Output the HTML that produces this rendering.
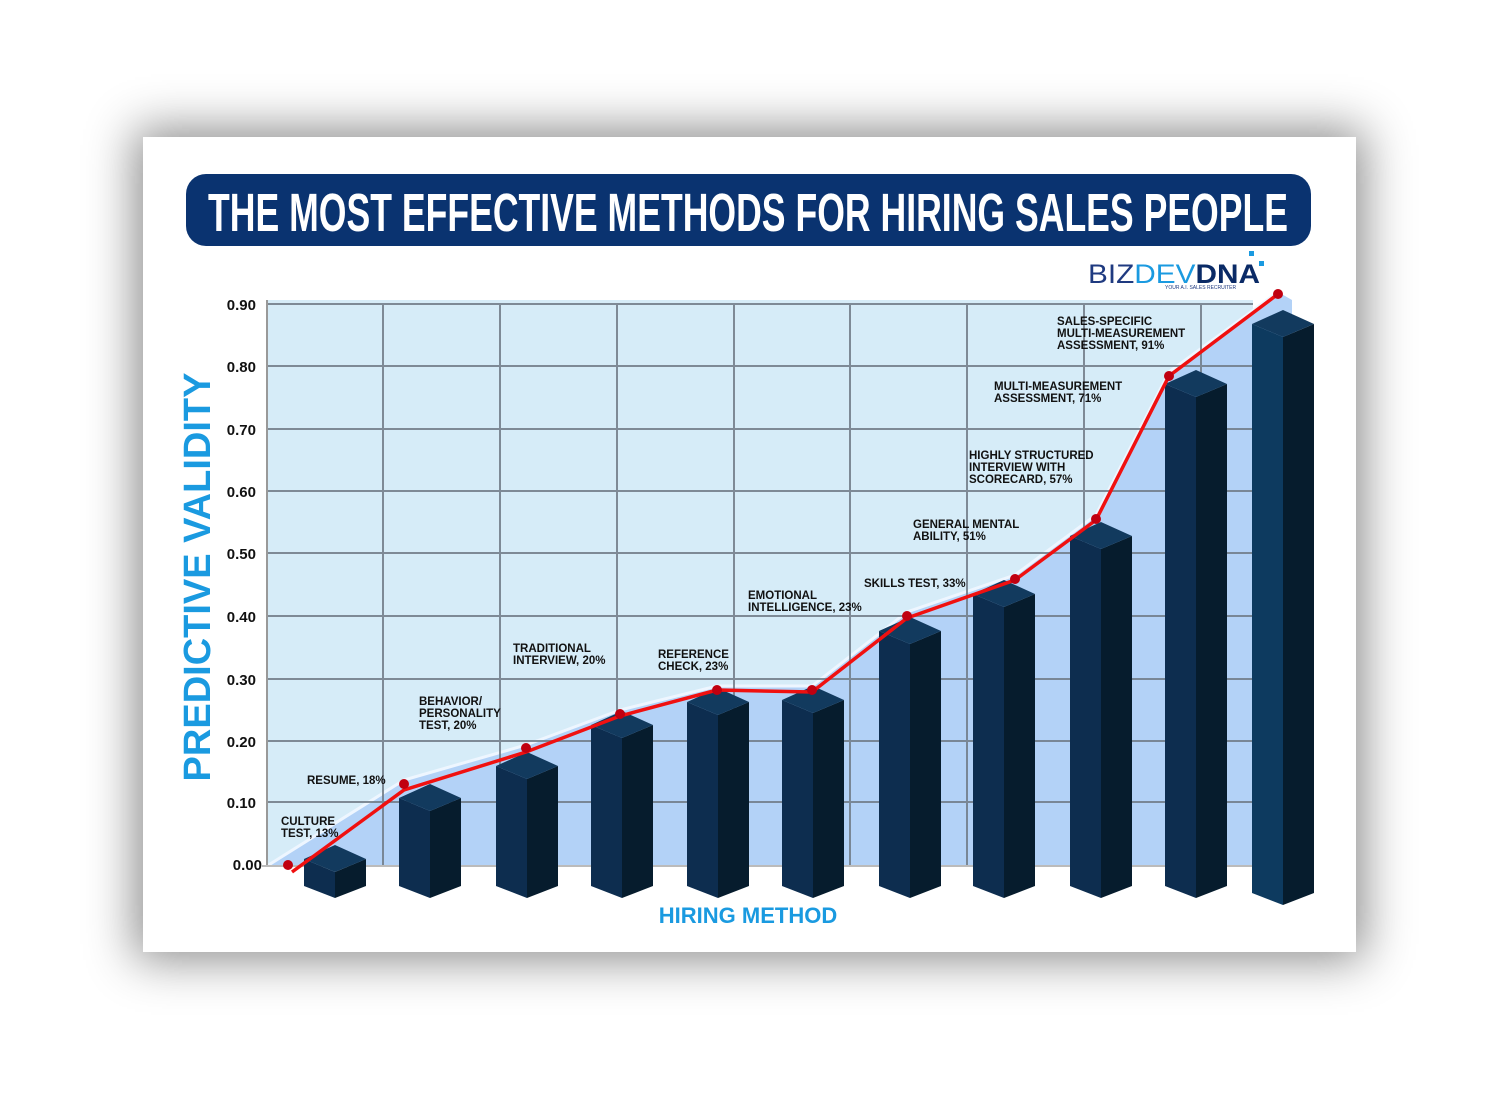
<!DOCTYPE html>
<html><head><meta charset="utf-8"><style>
html,body{margin:0;padding:0;background:#fff;}
body{width:1500px;height:1102px;overflow:hidden;position:relative;}
.card{position:absolute;left:143px;top:137px;width:1213px;height:815px;background:#fff;box-shadow:0 0 45px 8px rgba(0,0,0,.45);}
svg{position:absolute;left:0;top:0;}
.lb{font-family:"Liberation Sans",sans-serif;font-weight:bold;font-size:11.5px;fill:#111;}
.tk{font-family:"Liberation Sans",sans-serif;font-weight:bold;font-size:15px;fill:#111;}
</style></head><body>
<div class="card"></div>
<svg width="1500" height="1102" viewBox="0 0 1500 1102">
<rect x="186" y="174" width="1125" height="72" rx="20" fill="#0a3370"/>
<text x="748" y="231" text-anchor="middle" font-family="Liberation Sans Narrow,Liberation Sans,sans-serif" font-weight="bold" font-size="54" fill="#fff" textLength="1080" lengthAdjust="spacingAndGlyphs">THE MOST EFFECTIVE METHODS FOR HIRING SALES PEOPLE</text>
<text x="1088" y="283" font-family="Liberation Sans,sans-serif" font-size="27" fill="#1f3a80" textLength="172" lengthAdjust="spacingAndGlyphs">BIZ<tspan fill="#1a9ae0">DEV</tspan><tspan font-weight="bold" fill="#0a2a66">DNA</tspan></text>
<rect x="1249" y="251" width="5" height="5" fill="#1a9ae0"/><rect x="1259" y="261" width="5" height="5" fill="#1a9ae0"/>
<text x="1165" y="289" font-family="Liberation Sans,sans-serif" font-size="5" fill="#1f3a80">YOUR A.I. SALES RECRUITER</text>
<rect x="267" y="300" width="986" height="566" fill="#d6ecf8"/>
<polygon points="267,866 404,780 526,745 620,710 717,686 812,686 907,612 1015,575 1096,515 1169,372 1278,292 1292,300 1292,866" fill="#b3d2f7"/>
<polyline points="267,866 404,780 526,745 620,710 717,686 812,686 907,612 1015,575 1096,515 1169,372 1278,292" fill="none" stroke="#eef6ff" stroke-width="3"/>
<g stroke="#6f7a86" stroke-width="2" opacity=".85">
<line x1="267" y1="304" x2="1253" y2="304"/><line x1="267" y1="366" x2="1253" y2="366"/><line x1="267" y1="429" x2="1253" y2="429"/><line x1="267" y1="491" x2="1253" y2="491"/><line x1="267" y1="553" x2="1253" y2="553"/><line x1="267" y1="616" x2="1253" y2="616"/><line x1="267" y1="679" x2="1253" y2="679"/><line x1="267" y1="741" x2="1253" y2="741"/><line x1="267" y1="802" x2="1253" y2="802"/>
<line x1="383" y1="304" x2="383" y2="866"/><line x1="500" y1="304" x2="500" y2="866"/><line x1="617" y1="304" x2="617" y2="866"/><line x1="734" y1="304" x2="734" y2="866"/><line x1="850" y1="304" x2="850" y2="866"/><line x1="967" y1="304" x2="967" y2="866"/><line x1="1084" y1="304" x2="1084" y2="866"/><line x1="1201" y1="304" x2="1201" y2="866"/>
</g>
<line x1="267" y1="300" x2="267" y2="866" stroke="#999" stroke-width="2"/>
<line x1="262" y1="866" x2="1253" y2="866" stroke="#bbb" stroke-width="2"/>
<g class="tk" text-anchor="end">
<text x="256" y="310">0.90</text><text x="256" y="372">0.80</text><text x="256" y="435">0.70</text><text x="256" y="497">0.60</text><text x="256" y="559">0.50</text><text x="256" y="622">0.40</text><text x="256" y="685">0.30</text><text x="256" y="747">0.20</text><text x="256" y="808">0.10</text><text x="262" y="870">0.00</text>
</g>
<text transform="translate(210,577) rotate(-90)" text-anchor="middle" font-family="Liberation Sans,sans-serif" font-weight="bold" font-size="38" fill="#1a9ae0">PREDICTIVE VALIDITY</text>
<text x="748" y="923" text-anchor="middle" font-family="Liberation Sans,sans-serif" font-weight="bold" font-size="22" fill="#1a9ae0">HIRING METHOD</text>
<g>
<polygon points="304,859 335,872 335,898 304,886" fill="#0d2d4f"/><polygon points="335,872 366,859 366,886 335,898" fill="#061c2d"/><polygon points="335,845 366,859 335,872 304,859" fill="#123a5e"/>
<polygon points="399,798 430,811 430,898 399,886" fill="#0d2d4f"/><polygon points="430,811 461,798 461,886 430,898" fill="#061c2d"/><polygon points="430,784 461,798 430,811 399,798" fill="#123a5e"/>
<polygon points="496,766 527,779 527,898 496,886" fill="#0d2d4f"/><polygon points="527,779 558,766 558,886 527,898" fill="#061c2d"/><polygon points="527,752 558,766 527,779 496,766" fill="#123a5e"/>
<polygon points="591,725 622,738 622,898 591,886" fill="#0d2d4f"/><polygon points="622,738 653,725 653,886 622,898" fill="#061c2d"/><polygon points="622,711 653,725 622,738 591,725" fill="#123a5e"/>
<polygon points="687,702 718,715 718,898 687,886" fill="#0d2d4f"/><polygon points="718,715 749,702 749,886 718,898" fill="#061c2d"/><polygon points="718,688 749,702 718,715 687,702" fill="#123a5e"/>
<polygon points="782,700 813,713 813,898 782,886" fill="#0d2d4f"/><polygon points="813,713 844,700 844,886 813,898" fill="#061c2d"/><polygon points="813,686 844,700 813,713 782,700" fill="#123a5e"/>
<polygon points="879,631 910,644 910,898 879,886" fill="#0d2d4f"/><polygon points="910,644 941,631 941,886 910,898" fill="#061c2d"/><polygon points="910,617 941,631 910,644 879,631" fill="#123a5e"/>
<polygon points="973,594 1004,607 1004,898 973,886" fill="#0d2d4f"/><polygon points="1004,607 1035,594 1035,886 1004,898" fill="#061c2d"/><polygon points="1004,580 1035,594 1004,607 973,594" fill="#123a5e"/>
<polygon points="1070,536 1101,549 1101,898 1070,886" fill="#0d2d4f"/><polygon points="1101,549 1132,536 1132,886 1101,898" fill="#061c2d"/><polygon points="1101,522 1132,536 1101,549 1070,536" fill="#123a5e"/>
<polygon points="1165,384 1196,397 1196,898 1165,886" fill="#0d2d4f"/><polygon points="1196,397 1227,384 1227,886 1196,898" fill="#061c2d"/><polygon points="1196,370 1227,384 1196,397 1165,384" fill="#123a5e"/>
<polygon points="1252,324 1283,337 1283,905 1252,893" fill="#0d3a5f"/><polygon points="1283,337 1314,324 1314,893 1283,905" fill="#061c2d"/><polygon points="1283,310 1314,324 1283,337 1252,324" fill="#123a5e"/>
</g>
<polyline points="292,872 404,790 526,752 620,716 717,690 812,692 907,618 1015,580 1096,520 1169,376 1278,294" fill="none" stroke="#f01010" stroke-width="3.5"/>
<g fill="#c00010">
<circle cx="288" cy="865" r="5"/><circle cx="404" cy="784" r="5"/><circle cx="526" cy="748" r="5"/><circle cx="620" cy="714" r="5"/><circle cx="717" cy="690" r="5"/><circle cx="812" cy="690" r="5"/><circle cx="907" cy="616" r="5"/><circle cx="1015" cy="579" r="5"/><circle cx="1096" cy="519" r="5"/><circle cx="1169" cy="376" r="5"/><circle cx="1278" cy="294" r="5"/>
</g>
<g class="lb">
<text x="281" y="825">CULTURE</text><text x="281" y="837">TEST, 13%</text>
<text x="307" y="784">RESUME, 18%</text>
<text x="419" y="705">BEHAVIOR/</text><text x="419" y="717">PERSONALITY</text><text x="419" y="729">TEST, 20%</text>
<text x="513" y="652">TRADITIONAL</text><text x="513" y="664">INTERVIEW, 20%</text>
<text x="658" y="658">REFERENCE</text><text x="658" y="670">CHECK, 23%</text>
<text x="748" y="599">EMOTIONAL</text><text x="748" y="611">INTELLIGENCE, 23%</text>
<text x="864" y="587">SKILLS TEST, 33%</text>
<text x="913" y="528">GENERAL MENTAL</text><text x="913" y="540">ABILITY, 51%</text>
<text x="969" y="459">HIGHLY STRUCTURED</text><text x="969" y="471">INTERVIEW WITH</text><text x="969" y="483">SCORECARD, 57%</text>
<text x="994" y="390">MULTI-MEASUREMENT</text><text x="994" y="402">ASSESSMENT, 71%</text>
<text x="1057" y="325">SALES-SPECIFIC</text><text x="1057" y="337">MULTI-MEASUREMENT</text><text x="1057" y="349">ASSESSMENT, 91%</text>
</g>
</svg>
</body></html>
